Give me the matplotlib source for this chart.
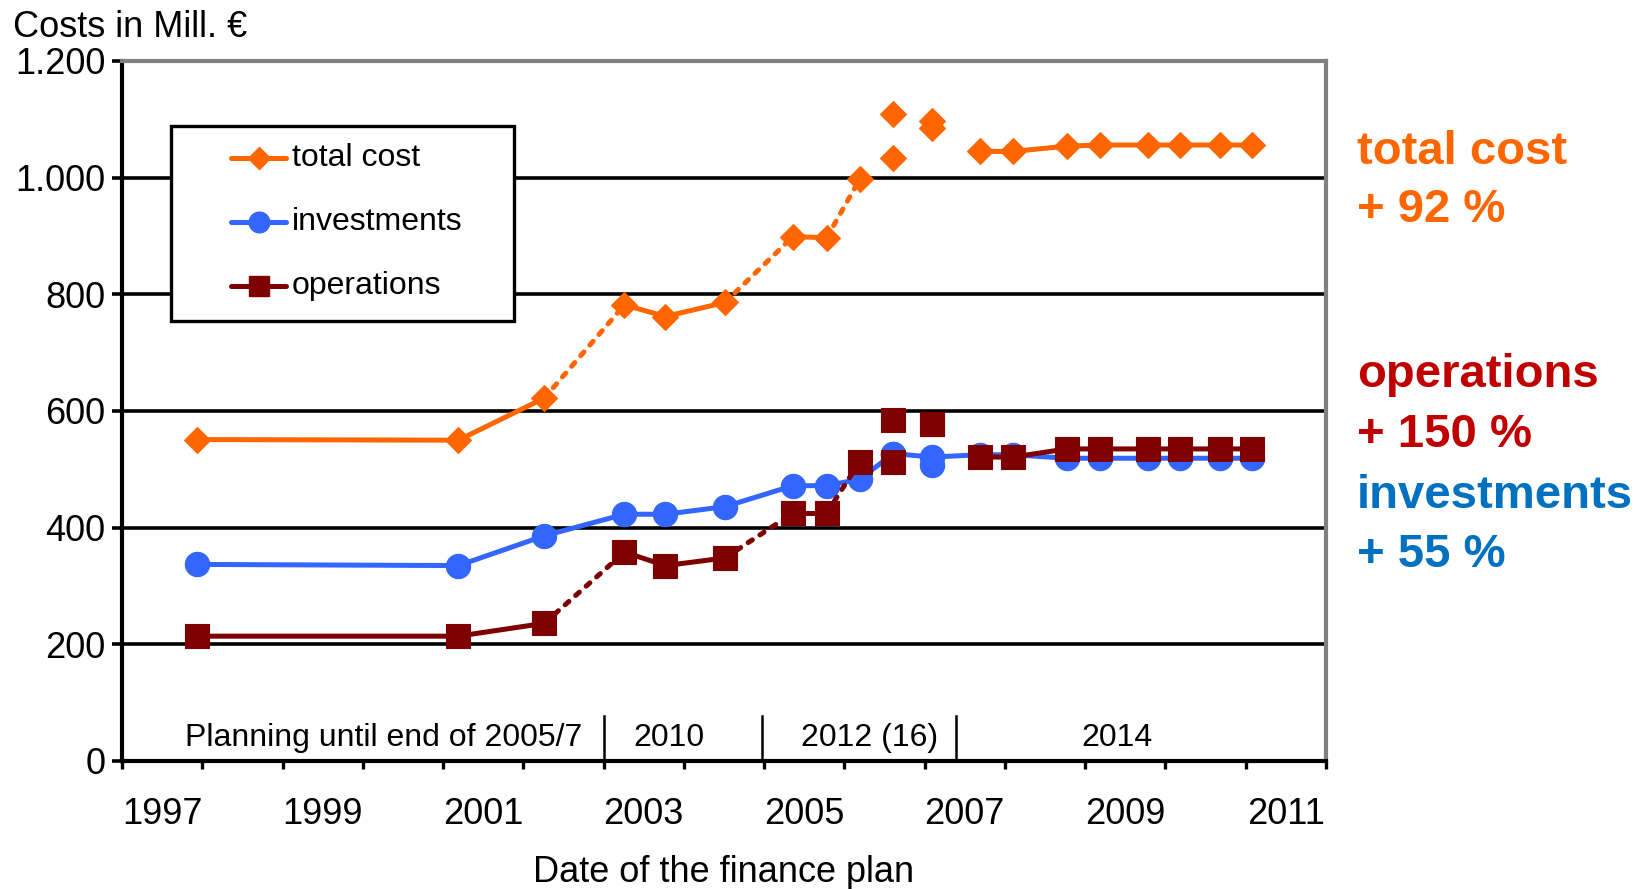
import matplotlib
matplotlib.use("Agg")
import matplotlib.pyplot as plt
from matplotlib.ticker import FixedLocator, FuncFormatter, NullFormatter
from matplotlib.lines import Line2D
from matplotlib.patches import Rectangle

plt.rcParams['font.family'] = ['Liberation Sans', 'DejaVu Sans']

# ---- data -----------------------------------------------------------------
# date of each finance plan (fractional year)
plan_dates = [1997.93, 2001.19, 2002.26, 2003.26, 2003.77, 2004.51, 2005.36,
              2005.78, 2006.19, 2006.61, 2007.09, 2007.69, 2008.10, 2008.77,
              2009.19, 2009.78, 2010.18, 2010.68, 2011.08]
total_cost = [551, 550, 622, 782, 762, 786, 899, 897, 997, 1034, 1097, 1045,
              1045, 1054, 1056, 1056, 1056, 1056, 1056]
investments = [337, 335, 386, 423, 423, 436, 472, 472, 483, 527, 521, 525,
               525, 519, 519, 519, 519, 519, 519]
operations = [214, 214, 236, 358, 335, 348, 425, 425, 513, 512, 578, 521,
              521, 535, 535, 535, 535, 535, 535]

# alternative plan variants of 2006/2007
variant_dates = [2006.61, 2007.09]
total_cost_variant = [1110, 1086]
investments_variant = [527, 507]
operations_variant = [584, 578]

# link between consecutive plans: 's' solid, 'd' dashed, '' none
links_total = ['s', 's', 'd', 's', 's', 'd', 's', 'd', '', '', '',
               's', 's', 's', 's', 's', 's', 's']
links_investments = ['s'] * 18
links_operations = list(links_total)

year_labels = list(range(1997, 2012, 2))
y_ticks = [0, 200, 400, 600, 800, 1000, 1200]

horizon_labels = ["Planning until end of 2005/7", "2010", "2012 (16)", "2014"]
horizon_label_x = [2000.26, 2003.82, 2006.31, 2009.39]
horizon_breaks = [2003.0, 2004.97, 2007.39]

series_names = ["total cost", "investments", "operations"]
summary_lines = [("total cost", "#FF6600"), ("+ 92 %", "#FF6600"),
                 ("operations", "#C00000"), ("+ 150 %", "#C00000"),
                 ("investments", "#0070C0"), ("+ 55 %", "#0070C0")]

# ---- style ----------------------------------------------------------------
C_TOTAL = "#FF6600"
C_INV = "#3366FF"
C_OPS = "#7F0000"
LW = 3.6
STYLES = [
    dict(color=C_TOTAL, marker='D', ms=13.5),
    dict(color=C_INV, marker='o', ms=17.5),
    dict(color=C_OPS, marker='s', ms=17.5),
]

W, H = 1650, 889
fig = plt.figure(figsize=(W / 100, H / 100), dpi=100)
ax_l, ax_r, ax_t, ax_b = 122, 1326, 61, 761
ax = fig.add_axes([ax_l / W, 1 - ax_b / H, (ax_r - ax_l) / W, (ax_b - ax_t) / H])


def draw_series(x, y, links, style, z):
    n = len(links)
    i = 0
    while i < n:
        kind = links[i]
        j = i
        while j < n and links[j] == kind:
            j += 1
        if kind:
            ls = '-' if kind == 's' else (0, (1.0, 1.8))
            ax.plot(x[i:j + 1], y[i:j + 1], color=style['color'], lw=LW, ls=ls,
                    solid_capstyle='round', dash_capstyle='round', zorder=z)
        i = j
    ax.plot(x, y, ls='none', marker=style['marker'], ms=style['ms'],
            color=style['color'], mec=style['color'], mew=0.8, zorder=z + 0.1)


def draw_variants(x, y, style, z):
    ax.plot(x, y, ls='none', marker=style['marker'], ms=style['ms'],
            color=style['color'], mec=style['color'], mew=0.8, zorder=z + 0.1)


draw_series(plan_dates, total_cost, links_total, STYLES[0], 3)
draw_variants(variant_dates, total_cost_variant, STYLES[0], 3)
draw_series(plan_dates, investments, links_investments, STYLES[1], 4)
draw_variants(variant_dates, investments_variant, STYLES[1], 4)
draw_series(plan_dates, operations, links_operations, STYLES[2], 5)
draw_variants(variant_dates, operations_variant, STYLES[2], 5)

# ---- axes -----------------------------------------------------------------
ax.set_xlim(1997, 2012)
ax.set_ylim(0, 1200)
ax.set_yticks(y_ticks)
ax.yaxis.set_major_formatter(FuncFormatter(lambda v, p: f"{int(v):,}".replace(",", ".")))
ax.xaxis.set_major_locator(FixedLocator(list(range(1997, 2013))))
ax.xaxis.set_major_formatter(NullFormatter())
ax.xaxis.set_minor_locator(FixedLocator([y + 0.5 for y in year_labels]))
ax.set_xticklabels([str(y) for y in year_labels], minor=True)

ax.tick_params(axis='y', which='major', direction='out', length=7, width=2.6,
               pad=5, labelsize=26, color='black')
ax.tick_params(axis='x', which='major', direction='out', length=6, width=2.4,
               color='black')
ax.tick_params(axis='x', which='minor', length=0, pad=26, labelsize=26)

ax.set_axisbelow(True)
ax.yaxis.grid(True, color='black', lw=2.6)
ax.xaxis.grid(False)
for side in ('left', 'bottom'):
    ax.spines[side].set_color('black')
    ax.spines[side].set_linewidth(3.0)
for side in ('top', 'right'):
    ax.spines[side].set_color('#808080')
    ax.spines[side].set_linewidth(3.0)

# planning horizon bands along the bottom
for xb in horizon_breaks:
    ax.plot([xb, xb], [0, 78], color='black', lw=1.8, zorder=2)
for lbl, xl in zip(horizon_labels, horizon_label_x):
    ax.text(xl, 40, lbl, ha='center', va='center', fontsize=23, zorder=2)

# ---- legend box -----------------------------------------------------------
ax.add_patch(Rectangle((0.0403, 0.6286), 0.2849, 0.2781, transform=ax.transAxes,
                       facecolor='white', edgecolor='black', lw=2.4, zorder=10))
rows_y = [0.8617, 0.77, 0.6783]
for name, st, ry in zip(series_names, STYLES, rows_y):
    ax.add_line(Line2D([0.0909, 0.1362], [ry, ry], transform=ax.transAxes,
                       color=st['color'], lw=LW, solid_capstyle='round', zorder=11))
    ax.add_line(Line2D([0.1138], [ry], transform=ax.transAxes, ls='none',
                       marker=st['marker'], ms=st['ms'] * 0.85, color=st['color'],
                       mec=st['color'], zorder=11.1))
    ax.text(0.1409, ry, name, transform=ax.transAxes, ha='left', va='center',
            fontsize=23, zorder=12)

# ---- titles and notes -----------------------------------------------------
fig.text(13 / W, 1 - 37 / H, "Costs in Mill. €", fontsize=26, va='baseline', ha='left')
fig.text((ax_l + ax_r) / 2 / W, 1 - 882 / H, "Date of the finance plan",
         fontsize=26, va='baseline', ha='center')

summary_baselines = [164, 222, 387, 447, 508, 567]
for (txt, col), yb in zip(summary_lines, summary_baselines):
    fig.text(1357 / W, 1 - yb / H, txt, color=col, fontsize=34, fontweight='bold',
             va='baseline', ha='left')

fig.savefig("out.png", dpi=100, facecolor='white')
